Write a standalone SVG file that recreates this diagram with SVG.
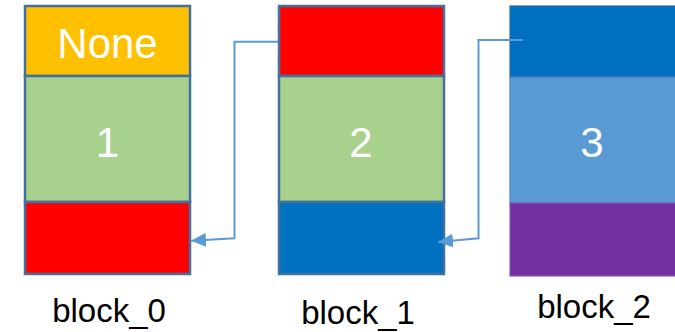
<svg xmlns="http://www.w3.org/2000/svg" width="675" height="332" viewBox="0 0 675 332">
<defs>
<style>
.seg{stroke:#41719C;stroke-width:2.5}
.seg2{stroke-width:1.2}
.v{font-family:"Liberation Sans",Arial,sans-serif;font-size:42px;fill:#FFFFFF;text-anchor:middle}
.lbl{font-family:"Liberation Sans",Arial,sans-serif;font-size:33px;fill:#000000;text-anchor:middle}
.conn{fill:none;stroke:#5B9BD5;stroke-width:2;stroke-linejoin:miter}
</style>
<marker id="ah" markerUnits="userSpaceOnUse" markerWidth="16" markerHeight="14" refX="15" refY="7" orient="auto">
<path d="M0,0 L15,7 L0,14 z" fill="#5B9BD5"/>
</marker>
</defs>
<rect width="675" height="332" fill="#FFFFFF"/>
<g id="block_0">
<rect class="seg" x="25" y="6" width="165" height="70" fill="#FFC000"/>
<rect class="seg" x="25" y="76" width="165" height="126" fill="#A9D18E"/>
<rect class="seg" x="25" y="202" width="165" height="72" fill="#FF0000"/>
<text class="v" x="107.5" y="58">None</text>
<text class="v" x="107.5" y="157">1</text>
<text class="lbl" x="109" y="322">block_0</text>
</g>
<g id="block_1">
<rect class="seg" x="279" y="6" width="165" height="70" fill="#FF0000"/>
<rect class="seg" x="279" y="76" width="165" height="126" fill="#A9D18E"/>
<rect class="seg" x="279" y="202" width="165" height="72" fill="#0070C0"/>
<text class="v" x="361" y="157">2</text>
<text class="lbl" x="358" y="324">block_1</text>
</g>
<g id="block_2">
<rect class="seg2" x="510" y="6" width="170" height="71" fill="#0070C0" stroke="#2E6BA8"/>
<rect class="seg2" x="510" y="77" width="170" height="126" fill="#5B9BD5" stroke="#4A80B8"/>
<rect class="seg2" x="510" y="203" width="170" height="73" fill="#7030A0" stroke="#8A5AB5"/>
<text class="v" x="592" y="157">3</text>
<text class="lbl" x="594" y="318">block_2</text>
</g>
<g id="connectors">
<polyline class="conn" points="278,41.7 234.5,41.7 234.5,238.3 191,240.8" marker-end="url(#ah)"/>
<polyline class="conn" points="523,40 478.5,40 478.5,238.3 438,242" marker-end="url(#ah)"/>
</g>
</svg>
